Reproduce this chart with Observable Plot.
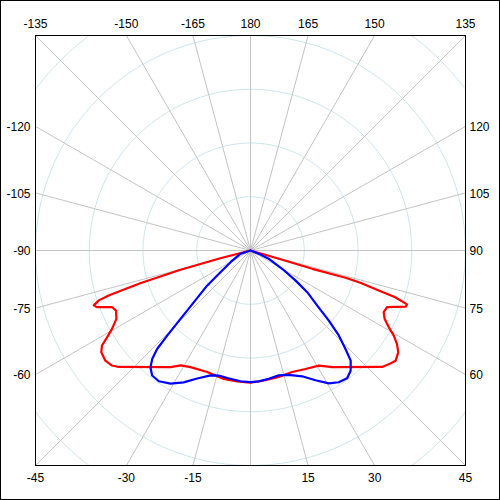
<!DOCTYPE html>
<html><head><meta charset="utf-8">
<script src="https://cdn.jsdelivr.net/npm/d3@7"></script>
<script src="https://cdn.jsdelivr.net/npm/@observablehq/plot@0.6"></script>
<style>body{margin:0;background:#fff} #chart svg{display:block}</style>
</head><body><div id="chart"></div>
<script>
// Polar intensity curves: angle (deg, 0 = down, 90 = right), value (100 per grid circle)
const redAngles = [-90, -75.6, -74.6, -73.5, -72.4, -71.8, -70.7, -69.7, -67.7, -65.9, -63.0, -60.5, -58.8, -57.4, -55.7, -52.8, -50.3, -48.5, -34.4, -31.3, -27.2, -19.6, -11.8, -5.8, 0, 6.6, 12.6, 18.9, 24.9, 30.7, 33.0, 35.0, 48.5, 50.5, 52.8, 55.4, 57.5, 59.3, 61.0, 63.0, 65.2, 67.5, 70.1, 71.0, 72.1, 72.7, 73.6, 74.0, 73.5, 73.7, 90];
const redValues = [0, 58, 135, 214, 277, 297, 309, 304, 278, 274, 280, 296, 312, 328, 336, 339, 335, 327, 263, 250, 244, 240, 244, 245, 246, 243, 241, 239, 243, 249, 257, 265, 327, 333, 339, 334, 323, 310, 294, 280, 273, 275, 307, 308, 283, 250, 213, 184, 120, 55, 0];
const blueAngles = [-90, -71.7, -59.7, -54.1, -51.0, -47.6, -45.7, -44.4, -43.5, -42.2, -40.6, -38.2, -35.0, -31.0, -26.9, -22.6, -17.7, -14.2, -10.3, -4.4, 0, 3.6, 8.1, 12.8, 17.1, 22.3, 26.6, 30.5, 33.8, 37.1, 39.8, 42.3, 44.0, 46.1, 48.2, 50.5, 53.7, 56.3, 60.0, 65.6, 68.3, 90];
const blueValues = [0, 20, 43, 69, 104, 143, 182, 221, 252, 272, 286, 296, 297, 289, 275, 258, 244, 240, 241, 244, 245, 244, 241, 238, 242, 253, 270, 287, 295, 298, 291, 277, 254, 228, 195, 161, 131, 101, 68, 37, 17, 0];

// Grid
const gridRadii = [100, 200, 300, 400, 500];
const spokeAngles = [-180, -165, -150, -135, -120, -105, -90, -75, -60, -45, -30, -15, 0, 15, 30, 45, 60, 75, 90, 105, 120, 135, 150, 165];

// Tick labels per side of the frame
const topLabels = [-135, -150, -165, 180, 165, 150, 135];
const leftLabels = [-120, -105, -90, -75, -60];
const rightLabels = [120, 105, 90, 75, 60];
const bottomLabels = [-45, -30, -15, 15, 30, 45];

const R = 400;
const rad = d => d * Math.PI / 180;
const toXY = (a, v) => ({a, v, x: v * Math.sin(rad(a)), y: v * Math.cos(rad(a))});
const red = redAngles.map((a, i) => toXY(a, redValues[i]));
const blue = blueAngles.map((a, i) => toXY(a, blueValues[i]));
const circleSteps = d3.range(0, 361, 2);
const circles = gridRadii.flatMap(r => circleSteps.map(a => ({r, ...toXY(a, r)})));
const spokes = spokeAngles.map(a => toXY(a, 800));
function edge(a, side) {
  const s = Math.sin(rad(a)), c = Math.cos(rad(a));
  const t = R / Math.max(Math.abs(s), Math.abs(c));
  return {label: String(a), side, x: t * s, y: t * c};
}
const labTop = topLabels.map(a => edge(a, "top"));
const labLeft = leftLabels.map(a => edge(a, "left"));
const labRight = rightLabels.map(a => edge(a, "right"));
const labBottom = bottomLabels.map(a => edge(a, "bottom"));

const font = {fontFamily: "Liberation Sans, Arial, sans-serif", fontSize: 12, fill: "black"};

const chart = Plot.plot({
  width: 500,
  height: 500,
  marginLeft: 35, marginRight: 35, marginTop: 35, marginBottom: 35,
  x: {domain: [-R, R], axis: null},
  y: {domain: [R, -R], axis: null},
  style: {background: "white", fontFamily: "Liberation Sans, Arial, sans-serif"},
  marks: [
    Plot.line(circles, {x: "x", y: "y", z: "r", stroke: "#cde6ee", strokeWidth: 1, clip: true}),
    Plot.link(spokes, {x1: () => 0, y1: () => 0, x2: "x", y2: "y", stroke: "#c4c4c4", strokeWidth: 1, clip: true}),
    Plot.line(red, {x: "x", y: "y", stroke: "#ff0000", strokeWidth: 2.2, strokeLinejoin: "round"}),
    Plot.line(blue, {x: "x", y: "y", stroke: "#0000ff", strokeWidth: 2.2, strokeLinejoin: "round"}),
    Plot.frame({stroke: "black", strokeWidth: 1}),
    Plot.frame({stroke: "black", strokeWidth: 1, insetLeft: -35, insetTop: -35, insetRight: -34, insetBottom: -34}),
    Plot.text(labTop, {x: "x", y: "y", text: "label", dy: -11, ...font}),
    Plot.text(labBottom, {x: "x", y: "y", text: "label", dy: 13, ...font}),
    Plot.text(labLeft, {x: "x", y: "y", text: "label", dx: -5, dy: 1, textAnchor: "end", ...font}),
    Plot.text(labRight, {x: "x", y: "y", text: "label", dx: 4, dy: 1, textAnchor: "start", ...font})
  ]
});
document.getElementById("chart").append(chart);
</script>
</body></html>
